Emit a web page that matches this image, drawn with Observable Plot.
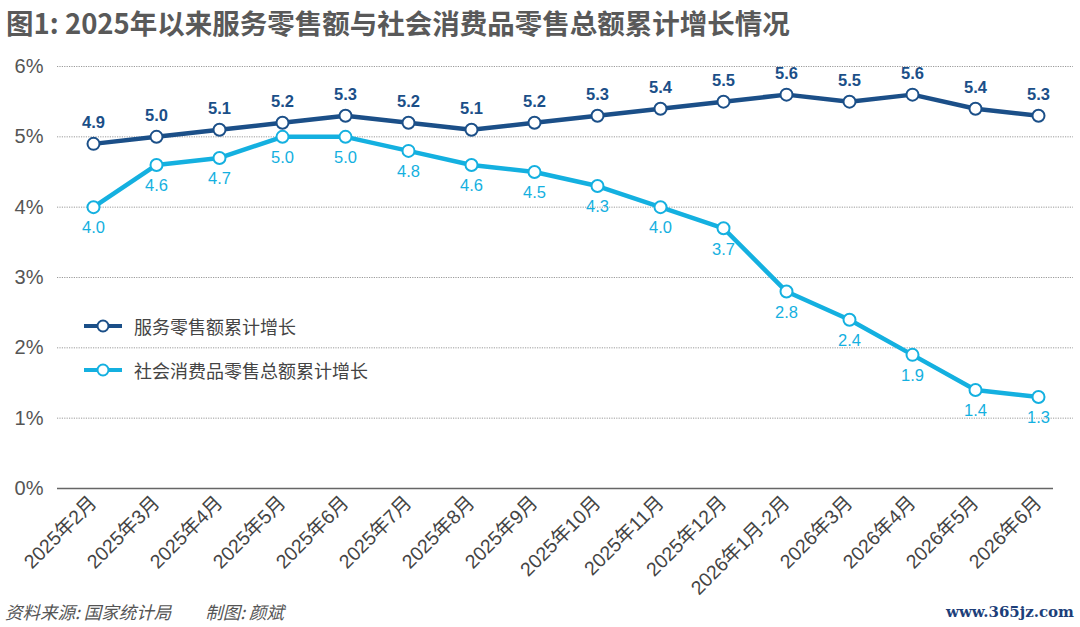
<!DOCTYPE html>
<html>
<head>
<meta charset="utf-8">
<script src="https://cdn.jsdelivr.net/npm/d3@7"></script>
<script src="https://cdn.jsdelivr.net/npm/@observablehq/plot@0.6"></script>
<style>
  html, body { margin: 0; padding: 0; background: #fff; }
  body { width: 1080px; height: 627px; position: relative; overflow: hidden;
         font-family: "Liberation Sans", "Noto Sans CJK SC", sans-serif; }
  #title { height: 44px; line-height: 44px; padding-left: 6px; font-size: 27.5px; font-weight: bold;
           color: #595959; font-family: "Noto Sans CJK SC", sans-serif; letter-spacing: 0px; }
  #legend { position: absolute; left: 82px; top: 312px; font-size: 18px; color: #444;
            font-family: "Noto Sans CJK SC", sans-serif; }
  .row { display: flex; align-items: center; height: 28px; margin-bottom: 16px; }
  .row svg { margin-right: 10px; }
  #source { position: absolute; left: 5px; top: 599px; font-size: 17.5px; color: #555; font-style: italic;
            font-family: "Noto Sans CJK SC", sans-serif; }
  #source span { margin-left: 34px; }
  #mark { position: absolute; right: 6px; top: 603px; font-size: 15px; color: #1d3f7a; font-weight: bold;
          font-family: "DejaVu Serif", serif; }
</style>
</head>
<body>
<div id="title">图1: 2025年以来服务零售额与社会消费品零售总额累计增长情况</div>
<div id="chart"></div>
<div id="legend"></div>
<div id="source">资料来源: 国家统计局<span>制图: 颜斌</span></div>
<div id="mark">www.365jz.com</div>
<script>
const categories = ["2025年2月","2025年3月","2025年4月","2025年5月","2025年6月","2025年7月","2025年8月","2025年9月","2025年10月","2025年11月","2025年12月","2026年1月-2月","2026年3月","2026年4月","2026年5月","2026年6月"];
const serviceRetail = [4.9,5.0,5.1,5.2,5.3,5.2,5.1,5.2,5.3,5.4,5.5,5.6,5.5,5.6,5.4,5.3];
const consumerRetail = [4.0,4.6,4.7,5.0,5.0,4.8,4.6,4.5,4.3,4.0,3.7,2.8,2.4,1.9,1.4,1.3];
const seriesNames = ["服务零售额累计增长","社会消费品零售总额累计增长"];
const seriesColors = ["#1b4f88","#14b0e0"];
const yTicks = [0,1,2,3,4,5,6];

const s1 = categories.map((c,i)=>({cat:c, v:serviceRetail[i]}));
const s2 = categories.map((c,i)=>({cat:c, v:consumerRetail[i]}));

const chart = Plot.plot({
  width: 1080, height: 555,
  marginTop: 22, marginBottom: 111, marginLeft: 57, marginRight: 7,
  style: {fontFamily: "'Liberation Sans', 'Noto Sans CJK SC', sans-serif", background: "#fff"},
  x: {type: "point", domain: categories, padding: 0.5, label: null},
  y: {domain: [0, 6], label: null},
  marks: [
    Plot.ruleY(yTicks.filter(d=>d>0), {stroke: "#9a9a9a", strokeWidth: 1, strokeDasharray: "1.2,1.2"}),
    Plot.ruleY([0], {stroke: "#666", strokeWidth: 1.5, insetRight: 20}),
    Plot.axisY({ticks: yTicks, tickFormat: d => d + "%", tickSize: 0, tickPadding: 14, fontSize: 20, fill: "#555", fontWeight: 300, label: null}),
    Plot.axisX({tickSize: 0, tickRotate: -45, fontSize: 19.5, fill: "#444", tickPadding: 11, label: null}),
    Plot.line(s2, {x: "cat", y: "v", stroke: seriesColors[1], strokeWidth: 4.5}),
    Plot.line(s1, {x: "cat", y: "v", stroke: seriesColors[0], strokeWidth: 4.5}),
    Plot.dot(s2, {x: "cat", y: "v", r: 6, fill: "#fff", stroke: seriesColors[1], strokeWidth: 2}),
    Plot.dot(s1, {x: "cat", y: "v", r: 6, fill: "#fff", stroke: seriesColors[0], strokeWidth: 2}),
    Plot.text(s1, {x: "cat", y: "v", text: d => d.v.toFixed(1), dy: -21, fill: seriesColors[0], fontSize: 16.5, fontWeight: 600}),
    Plot.text(s2, {x: "cat", y: "v", text: d => d.v.toFixed(1), dy: 21, fill: seriesColors[1], fontSize: 16.5})
  ]
});
document.getElementById("chart").appendChild(chart);

const legend = document.getElementById("legend");
seriesNames.forEach((n,i)=>{
  const row = document.createElement("div");
  row.className = "row";
  row.innerHTML = `<svg width="42" height="16"><line x1="2" y1="8" x2="40" y2="8" stroke="${seriesColors[i]}" stroke-width="4"/><circle cx="21" cy="8" r="5.5" fill="#fff" stroke="${seriesColors[i]}" stroke-width="2"/></svg><span>${n}</span>`;
  legend.appendChild(row);
});
</script>
</body>
</html>
